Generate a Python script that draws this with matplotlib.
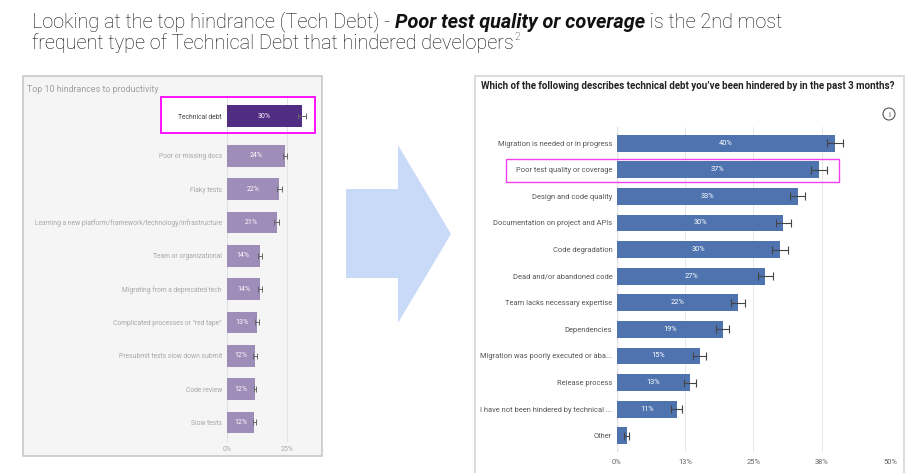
import numpy as np
import matplotlib
matplotlib.use('Agg')
import matplotlib.pyplot as plt
from matplotlib.patches import Rectangle, Polygon, Circle

plt.rcParams['font.family'] = ['Roboto', 'DejaVu Sans']

W, H = 924, 473

# left chart: top 10 hindrances
hind_labels = ['Technical debt', 'Poor or missing docs', 'Flaky tests',
               'Learning a new platform/framework/technology/infrastructure',
               'Team or organizational', 'Migrating from a deprecated tech',
               'Complicated processes or "red tape"', 'Presubmit tests slow down submit',
               'Code review', 'Slow tests']
hind_values = [31.5, 24.3, 21.9, 20.8, 13.9, 14.0, 12.8, 11.8, 11.8, 11.5]
hind_text = ['30%', '24%', '22%', '21%', '14%', '14%', '13%', '12%', '12%', '12%']
hind_err = [1.6, 1.0, 1.0, 1.0, 0.9, 0.9, 0.8, 0.7, 0.6, 0.6]
hind_ticks = [0, 25]
hind_ticklabels = ['0%', '25%']

# right chart: technical debt types
debt_labels = ['Migration is needed or in progress', 'Poor test quality or coverage',
               'Design and code quality', 'Documentation on project and APIs',
               'Code degradation', 'Dead and/or abandoned code',
               'Team lacks necessary expertise', 'Dependencies',
               'Migration was poorly executed or aba...', 'Release process',
               'I have not been hindered by technical ...', 'Other']
debt_values = [39.9, 37.0, 33.1, 30.5, 29.9, 27.2, 22.2, 19.4, 15.2, 13.4, 11.0, 1.8]
debt_text = ['40%', '37%', '33%', '30%', '30%', '27%', '22%', '19%', '15%', '13%', '11%', '']
debt_err = [1.5, 1.45, 1.4, 1.4, 1.4, 1.4, 1.3, 1.2, 1.15, 1.1, 1.0, 0.5]
debt_ticks = [0, 12.5, 25, 37.5, 50]
debt_ticklabels = ['0%', '13%', '25%', '38%', '50%']


def fig_rect(x0, y0, x1, y1):
    return [x0 / W, 1 - y1 / H, (x1 - x0) / W, (y1 - y0) / H]


fig = plt.figure(figsize=(W / 100, H / 100), dpi=100)

# background layer in pixel coords
bg = fig.add_axes([0, 0, 1, 1], zorder=0)
bg.set_xlim(0, W)
bg.set_ylim(H, 0)
bg.axis('off')
bg.add_patch(Rectangle((23.3, 75.7), 298.4, 380.3, facecolor='#f5f5f5',
                       edgecolor='#c8c8c8', lw=1.2))
bg.add_patch(Rectangle((161, 97.3), 154, 35.4, facecolor='white', edgecolor='none'))
bg.add_patch(Rectangle((475, 76), 429, 400, facecolor='white',
                       edgecolor='#dcdcdc', lw=1.5))
bg.add_patch(Polygon([(346, 189), (398, 189), (398, 145), (451, 234),
                      (398, 323), (398, 278), (346, 278)],
                     closed=True, facecolor='#c9daf8', edgecolor='none'))
bg.text(27, 89, 'Top 10 hindrances to productivity', fontsize=6.4,
        color='#a0a0a0', va='center', ha='left')
bg.text(481, 86, 'Which of the following describes technical debt you\u2019ve been hindered by in the past 3 months?',
        fontsize=7.0, fontweight='bold', color='#222222', va='center', ha='left')

# header text, pieced together
r = fig.canvas.get_renderer()
hy1 = 1 - 22 / H
hy2 = 1 - 43 / H
hsize = 14.3
hcol = '#111111'
parts = [('Looking at the top hindrance (Tech Debt) - ', 'light', 'normal'),
         ('Poor test quality or coverage', 'bold', 'italic'),
         (' is the 2nd most', 'light', 'normal')]
x = 32 / W
for txt, wt, st in parts:
    t = fig.text(x, hy1, txt, fontsize=hsize, fontweight=wt, fontstyle=st,
                 color=hcol, va='center', ha='left')
    x = t.get_window_extent(r).x1 / W
t = fig.text(32 / W, hy2, 'frequent type of Technical Debt that hindered developers',
             fontsize=hsize, fontweight='light', color=hcol, va='center', ha='left')
bb = t.get_window_extent(r)
fig.text(bb.x1 / W + 0.001, hy2 + 0.013, '2', fontsize=7.5, fontweight='light',
         color=hcol, va='center', ha='left')

# left chart
axl = fig.add_axes(fig_rect(226.7, 98, 321, 441.7), zorder=1)
axl.patch.set_alpha(0)
ypos_l = np.array([-0.19] + list(range(1, len(hind_values))))
colors_l = ['#502d82'] + ['#9e8cb9'] * (len(hind_values) - 1)
axl.barh(ypos_l, hind_values, height=0.65, color=colors_l, zorder=2)
axl.errorbar(hind_values, ypos_l, xerr=hind_err, fmt='none', ecolor='#666666',
             elinewidth=0.7, capsize=2.2, capthick=0.7, zorder=3)
for y, v, s in zip(ypos_l, hind_values, hind_text):
    axl.text(v / 2, y, s, ha='center', va='center', fontsize=5, color='white', zorder=4)
axl.set_xlim(0, 39.3)
axl.set_ylim(9.58, -0.73)
axl.set_yticks(ypos_l)
axl.set_yticklabels(hind_labels, fontsize=4.85)
for i, lab in enumerate(axl.get_yticklabels()):
    lab.set_color('#444444' if i == 0 else '#a8a8a8')
axl.set_xticks(hind_ticks)
axl.set_xticklabels(hind_ticklabels, fontsize=5, color='#a8a8a8')
axl.tick_params(length=0, pad=3.4)
axl.tick_params(axis='x', pad=3)
axl.grid(axis='x', color='#e3e3e3', lw=0.7, zorder=0)
for sp in axl.spines.values():
    sp.set_visible(False)
axl.axvline(0, color='#b0b0b0', lw=0.8, zorder=1)

# right chart
axr = fig.add_axes(fig_rect(616.7, 126.7, 890, 451.7), zorder=1)
axr.patch.set_alpha(0)
ypos_r = np.arange(len(debt_values))
axr.barh(ypos_r, debt_values, height=0.63, color='#4e73af', zorder=2)
axr.errorbar(debt_values, ypos_r, xerr=debt_err, fmt='none', ecolor='#444444',
             elinewidth=0.8, capsize=2.6, capthick=0.8, zorder=3)
for y, v, s in zip(ypos_r, debt_values, debt_text):
    axr.text(v / 2, y, s, ha='center', va='center', fontsize=5.3, color='white', zorder=4)
axr.set_xlim(0, 50)
axr.set_ylim(11.6, -0.62)
axr.set_yticks(ypos_r)
axr.set_yticklabels(debt_labels, fontsize=5.4, color='#555555')
axr.set_xticks(debt_ticks)
axr.set_xticklabels(debt_ticklabels, fontsize=5.4, color='#666666')
axr.tick_params(length=0, pad=3.2)
axr.tick_params(axis='x', pad=5)
axr.grid(axis='x', color='#e6e6e6', lw=0.7, zorder=0)
for sp in axr.spines.values():
    sp.set_visible(False)
axr.axvline(0, color='#aaaaaa', lw=0.9, zorder=1)

# overlay: highlights and info icon
ov = fig.add_axes([0, 0, 1, 1], zorder=5)
ov.set_xlim(0, W)
ov.set_ylim(H, 0)
ov.axis('off')
ov.patch.set_alpha(0)
ov.add_patch(Rectangle((161, 97.3), 154, 35.4, facecolor='none',
                       edgecolor='#ff00ff', lw=1.3))
ov.add_patch(Rectangle((505.7, 159.3), 333.6, 23, facecolor='none',
                       edgecolor='#f040f0', lw=1.0))
ov.add_patch(Circle((889, 114), 6, facecolor='none', edgecolor='#555555', lw=0.8))
ov.text(889, 114.5, 'i', ha='center', va='center', fontsize=6, color='#555555')

fig.savefig('out.png', dpi=100)
